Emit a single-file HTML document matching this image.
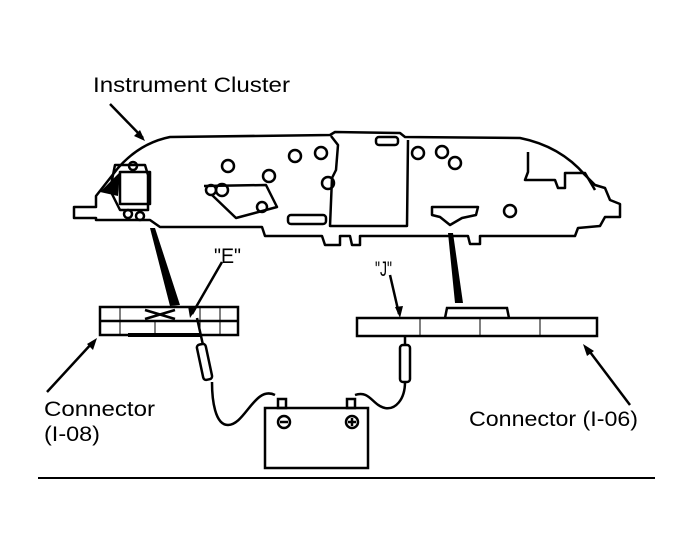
<!DOCTYPE html>
<html><head><style>
body{margin:0;background:#fff;}
svg{display:block;}
text{font-family:"Liberation Sans",sans-serif;fill:#000;}
</style></head><body>
<svg width="692" height="553" viewBox="0 0 692 553" xmlns="http://www.w3.org/2000/svg">
<g fill="none" stroke="#000" stroke-width="2.5" stroke-linejoin="round">
<path d="M74,207 L96,207 L96,196 L118,168 Q140,143 170,137 L330,135 L335,132 L400,133 L405,137 L520,138 Q560,146 585,175 L595,185 L605,188 L610,200 L620,204 L620,217 L605,217 L600,226 L578,228 L575,236 L480,236 L480,244 L470,244 L468,236 L360,236 L360,245 L352,245 L350,236 L340,236 L340,245 L325,245 L322,236 L265,236 L262,227 L160,227 L150,220 L96,220 L96,218 L74,218 Z"/>
<path d="M331,136 L338,145 L336,170 L332,178 L330,226 L407,226 L408,140"/>
<rect x="376" y="137" width="22" height="8" rx="3"/>
<rect x="288" y="215" width="38" height="9" rx="3"/>
<path d="M432,207 L478,207 L476,215 L462,218 L450,225 L440,217 L432,215 Z"/>
<path d="M528,152 L528,172 L525,180 L555,180 L558,188 L565,188 L565,173 L585,173 L595,190"/>
<path d="M204,186 L266,185 L277,207 L236,218 L212,195"/>
<rect x="120" y="172" width="30" height="32"/>
<path d="M115,165 L145,165 L148,175 L148,210 L120,210 L110,190 Z"/>
</g>
<g fill="none" stroke="#000" stroke-width="2.5">
<circle cx="228" cy="166" r="6"/><circle cx="269" cy="176" r="6"/><circle cx="211" cy="190" r="5"/>
<circle cx="222" cy="190" r="6"/><circle cx="262" cy="207" r="5"/><circle cx="295" cy="156" r="6"/>
<circle cx="321" cy="153" r="6"/><circle cx="328" cy="183" r="6"/><circle cx="418" cy="153" r="6"/>
<circle cx="442" cy="152" r="6"/><circle cx="455" cy="163" r="6"/><circle cx="510" cy="211" r="6"/>
<circle cx="128" cy="214" r="4"/><circle cx="140" cy="216" r="4"/><circle cx="133" cy="166" r="4"/>
</g>
<path d="M150,228 L155,228 L180,305 L170,306 Z" fill="#000"/>
<path d="M448,233 L453,233 L463,303 L455,303 Z" fill="#000"/>
<path d="M100,192 L120,172 L118,196 Z" fill="#000"/>
<g fill="none" stroke="#000" stroke-width="2.5">
<rect x="100" y="307" width="138" height="28"/>
<line x1="100" y1="321" x2="238" y2="321"/>
<line x1="128" y1="335" x2="200" y2="335" stroke-width="4"/>
<path d="M145,310 L175,319 M145,319 L175,310"/>
<rect x="357" y="318" width="240" height="18"/>
<path d="M445,318 L447,308 L507,308 L509,318"/>
<line x1="120" y1="307" x2="120" y2="335" stroke-width="1"/>
<line x1="155" y1="321" x2="155" y2="335" stroke-width="1"/>
<line x1="200" y1="307" x2="200" y2="335" stroke-width="1"/>
<line x1="220" y1="307" x2="220" y2="335" stroke-width="1"/>
<line x1="480" y1="318" x2="480" y2="336" stroke-width="1"/>
<line x1="540" y1="318" x2="540" y2="336" stroke-width="1"/>
<line x1="420" y1="318" x2="420" y2="336" stroke-width="1"/>
<path d="M197,318 L203,345"/>
<rect x="200" y="344" width="9" height="36" rx="3" transform="rotate(-12 204 362)"/>
<rect x="400" y="345" width="10" height="37" rx="3"/>
<line x1="405" y1="335" x2="405" y2="345"/>
<path d="M212,382 C212,400 215,425 228,425 C245,425 255,385 275,395"/>
<path d="M405,382 C405,400 395,410 385,408 C372,405 370,390 355,395"/>
<rect x="265" y="408" width="103" height="60"/>
<rect x="278" y="399" width="8" height="9"/>
<rect x="347" y="399" width="8" height="9"/>
<circle cx="284" cy="422" r="6"/><line x1="280" y1="422" x2="288" y2="422"/>
<circle cx="352" cy="422" r="6"/><path d="M348,422 L356,422 M352,418 L352,426"/>
</g>
<g stroke="#000" stroke-width="2.5" fill="none">
<line x1="110" y1="104" x2="143" y2="138"/>
<line x1="222" y1="262" x2="192" y2="314"/>
<line x1="390" y1="275" x2="399" y2="314"/>
<line x1="47" y1="392" x2="93" y2="342"/>
<line x1="630" y1="405" x2="587" y2="348"/>
<line x1="38" y1="478" x2="655" y2="478" stroke-width="2"/>
</g>
<g fill="#000">
<path d="M145,141 L134,136 L140,130 Z"/>
<path d="M190,318 L188,306 L196,309 Z"/>
<path d="M400,318 L395,307 L403,306 Z"/>
<path d="M97,338 L93,350 L87,344 Z"/>
<path d="M583,344 L594,351 L587,356 Z"/>
</g>
<text x="93" y="92" font-size="21" textLength="197" lengthAdjust="spacingAndGlyphs">Instrument Cluster</text>
<text x="214" y="263" font-size="21" textLength="27" lengthAdjust="spacingAndGlyphs">"E"</text>
<text x="375" y="276" font-size="21" textLength="17" lengthAdjust="spacingAndGlyphs">"J"</text>
<text x="44" y="416" font-size="21" textLength="111" lengthAdjust="spacingAndGlyphs">Connector</text>
<text x="44" y="441" font-size="21" textLength="56" lengthAdjust="spacingAndGlyphs">(I-08)</text>
<text x="469" y="426" font-size="21" textLength="169" lengthAdjust="spacingAndGlyphs">Connector (I-06)</text>
</svg>
</body></html>
